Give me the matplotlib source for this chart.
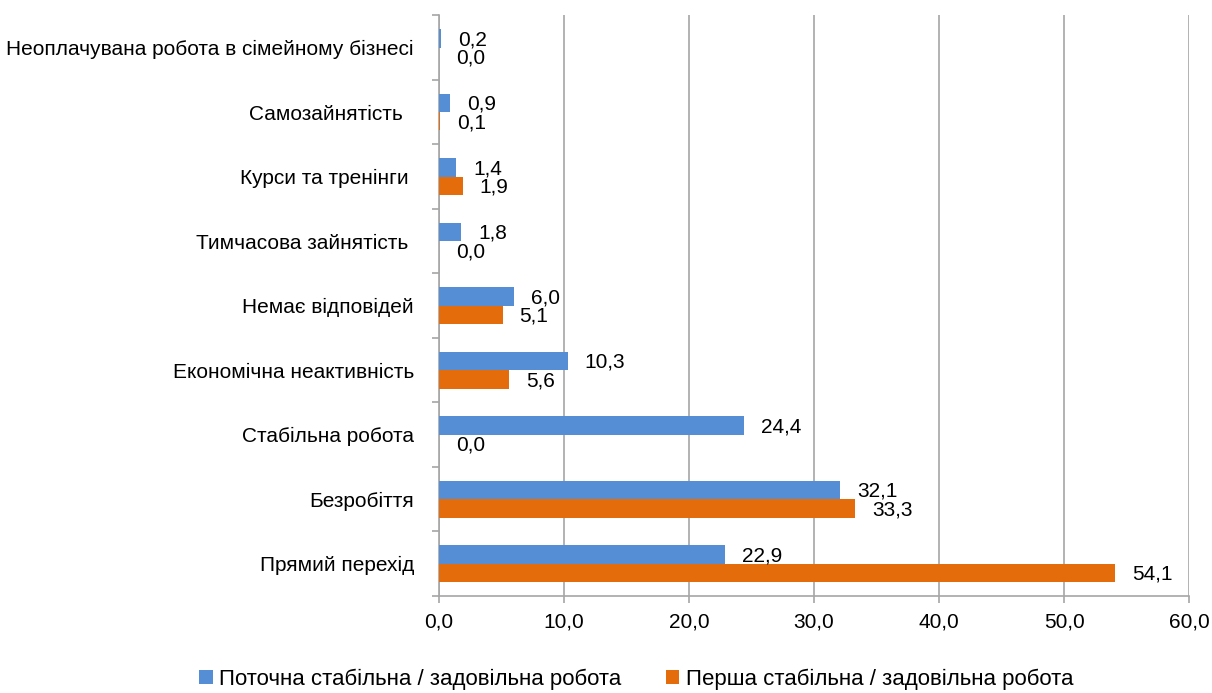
import matplotlib.pyplot as plt
import matplotlib.font_manager as fm
import numpy as np

# Data (bottom to top)
categories = [
    "Прямий перехід",
    "Безробіття",
    "Стабільна робота",
    "Економічна неактивність",
    "Немає відповідей",
    "Тимчасова зайнятість ",
    "Курси та тренінги ",
    "Самозайнятість  ",
    "Неоплачувана робота в сімейному бізнесі",
]
current_job = [22.9, 32.1, 24.4, 10.3, 6.0, 1.8, 1.4, 0.9, 0.2]
first_job = [54.1, 33.3, 0.0, 5.6, 5.1, 0.0, 1.9, 0.1, 0.0]
series_names = [
    "Поточна стабільна / задовільна робота",
    "Перша стабільна / задовільна робота",
]

blue = "#558ED5"
orange = "#E46C0A"
grid_color = "#A6A6A6"

names = {f.name for f in fm.fontManager.ttflist}
family = "Liberation Sans Narrow" if "Liberation Sans Narrow" in names else "Liberation Sans"
plt.rcParams["font.family"] = [family, "DejaVu Sans"]
fs = 15


def fmt(v):
    return f"{v:.1f}".replace(".", ",")


fig = plt.figure(figsize=(12.12, 6.93), dpi=100)
ax = fig.add_axes([0.3622, 0.140, 0.619, 0.838])

y = np.arange(len(categories))
h = 0.285
b1 = ax.barh(y + h / 2, current_job, height=h, color=blue, label=series_names[0], zorder=3)
b2 = ax.barh(y - h / 2, first_job, height=h, color=orange, label=series_names[1], zorder=3)

for bars in (b1, b2):
    for rect in bars:
        v = rect.get_width()
        ax.annotate(
            fmt(v),
            (v, rect.get_y() + rect.get_height() / 2),
            xytext=(12, -1),
            textcoords="offset points",
            ha="left",
            va="center",
            fontsize=fs,
        )

ax.set_xlim(0, 60)
ax.set_ylim(-0.5, len(categories) - 0.5)
ax.set_xticks(np.arange(0, 61, 10))
ax.set_xticklabels([fmt(v) for v in np.arange(0, 61, 10)], fontsize=fs)
ax.set_yticks(y)
ax.set_yticklabels(categories, fontsize=fs)
ax.set_yticks(np.arange(-0.5, len(categories), 1), minor=True)
ax.tick_params(axis="y", which="major", length=0, pad=18)
ax.tick_params(axis="y", which="minor", length=5, color=grid_color, width=1.2)
ax.tick_params(axis="x", length=5, color=grid_color, width=1.2, pad=7)

ax.grid(axis="x", color=grid_color, linewidth=1.2, zorder=0)
for side in ("top", "right"):
    ax.spines[side].set_visible(False)
for side in ("left", "bottom"):
    ax.spines[side].set_color(grid_color)
    ax.spines[side].set_linewidth(1.2)

fig.legend(
    handles=[b1, b2],
    labels=series_names,
    loc="center",
    bbox_to_anchor=(0.525, 0.02),
    ncol=2,
    frameon=False,
    fontsize=16,
    handlelength=0.6,
    handleheight=0.6,
    handletextpad=0.3,
    columnspacing=2.0,
)

fig.savefig("out.png", dpi=100)
